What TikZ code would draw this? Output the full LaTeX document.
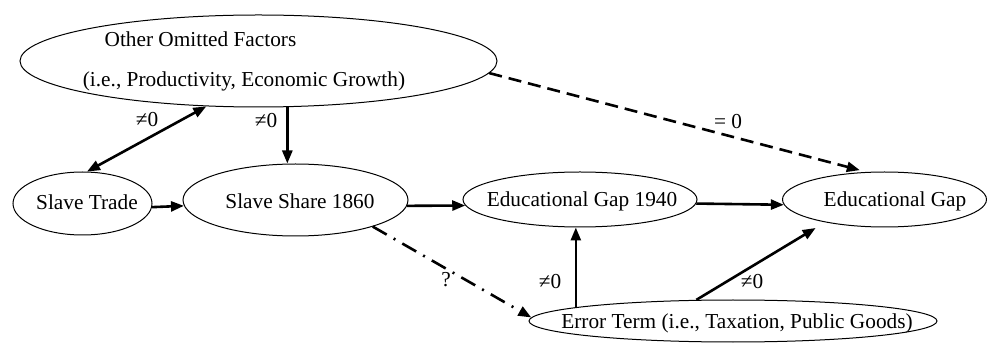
\documentclass[tikz,border=0pt]{standalone}
\usepackage{fontspec}
\setmainfont{Liberation Serif}
\usetikzlibrary{arrows.meta,shapes.geometric}
\begin{document}
\begin{tikzpicture}[x=1pt,y=-1pt,
  ell/.style={draw, ellipse, line width=1pt, inner sep=0pt},
  txt/.style={font=\fontsize{21.3}{25}\selectfont, inner sep=0pt},
  arr/.style={line width=2.6pt, -{Triangle[length=13pt,width=10pt]}},
  biarr/.style={line width=2.6pt, {Triangle[length=13pt,width=10pt]}-{Triangle[length=13pt,width=10pt]}},
  dashline/.style={dash pattern=on 13pt off 7pt},
  dotline/.style={dash pattern=on 16pt off 8pt on 2pt off 8pt}]
\useasboundingbox (0,0) rectangle (987,344);
% shapes
\node[ell, minimum width=477pt, minimum height=92pt] (oof) at (258.5,61) {};
\node[ell, minimum width=139pt, minimum height=63pt] (st) at (82.5,203.5) {};
\node[ell, minimum width=225pt, minimum height=72pt] (ss) at (295.5,200) {};
\node[ell, minimum width=234pt, minimum height=55pt] (eg40) at (580,199.5) {};
\node[ell, minimum width=204pt, minimum height=55pt] (eg) at (884.5,199.5) {};
\node[ell, minimum width=408pt, minimum height=42pt] (err) at (733,321) {};
% texts
\node[txt] (oofA) at (200.5,39) {Other Omitted Factors};
\node[txt] (oofB) at (244,81) {(i.e., Productivity, Economic Growth)};
\node[txt] (stT) at (87,202) {Slave Trade};
\node[txt] (ssT) at (300,201) {Slave Share 1860};
\node[txt] (eg40T) at (582,201) {Educational Gap 1940};
\node[txt] (egT) at (895,201) {Educational Gap};
\node[txt] (errT) at (737,323) {Error Term (i.e., Taxation, Public Goods)};
% connectors
\draw[biarr] (st.82) -- (oof.221);
\draw[arr] (oof.-58) -- (oof.-58 |- ss.north);
\draw[arr] (st.-3) -- (ss.183.6);
\draw[arr] (ss.-3.6) -- (eg40.183.8);
\draw[arr] (eg40.-2.75) -- (eg.183.1);
\draw[arr, dashline, shorten >=7pt] (oof.-3) -- (eg.123);
\draw[arr, dotline] (ss.-19) -- (err.179);
\draw[arr] (err.175.6) -- (err.175.6 |- eg40.south);
\draw[arr, shorten >=11pt] (err.150) -- (eg.201.8);
% labels
\node[txt] (l1) at (147,120) {≠0};
\node[txt] (l2) at (266,121) {≠0};
\node[txt] (l3) at (728,122) {= 0};
\node[txt] (l4) at (446,280) {?};
\node[txt] (l5) at (550,282) {≠0};
\node[txt] (l6) at (752,282) {≠0};
\end{tikzpicture}
\end{document}
